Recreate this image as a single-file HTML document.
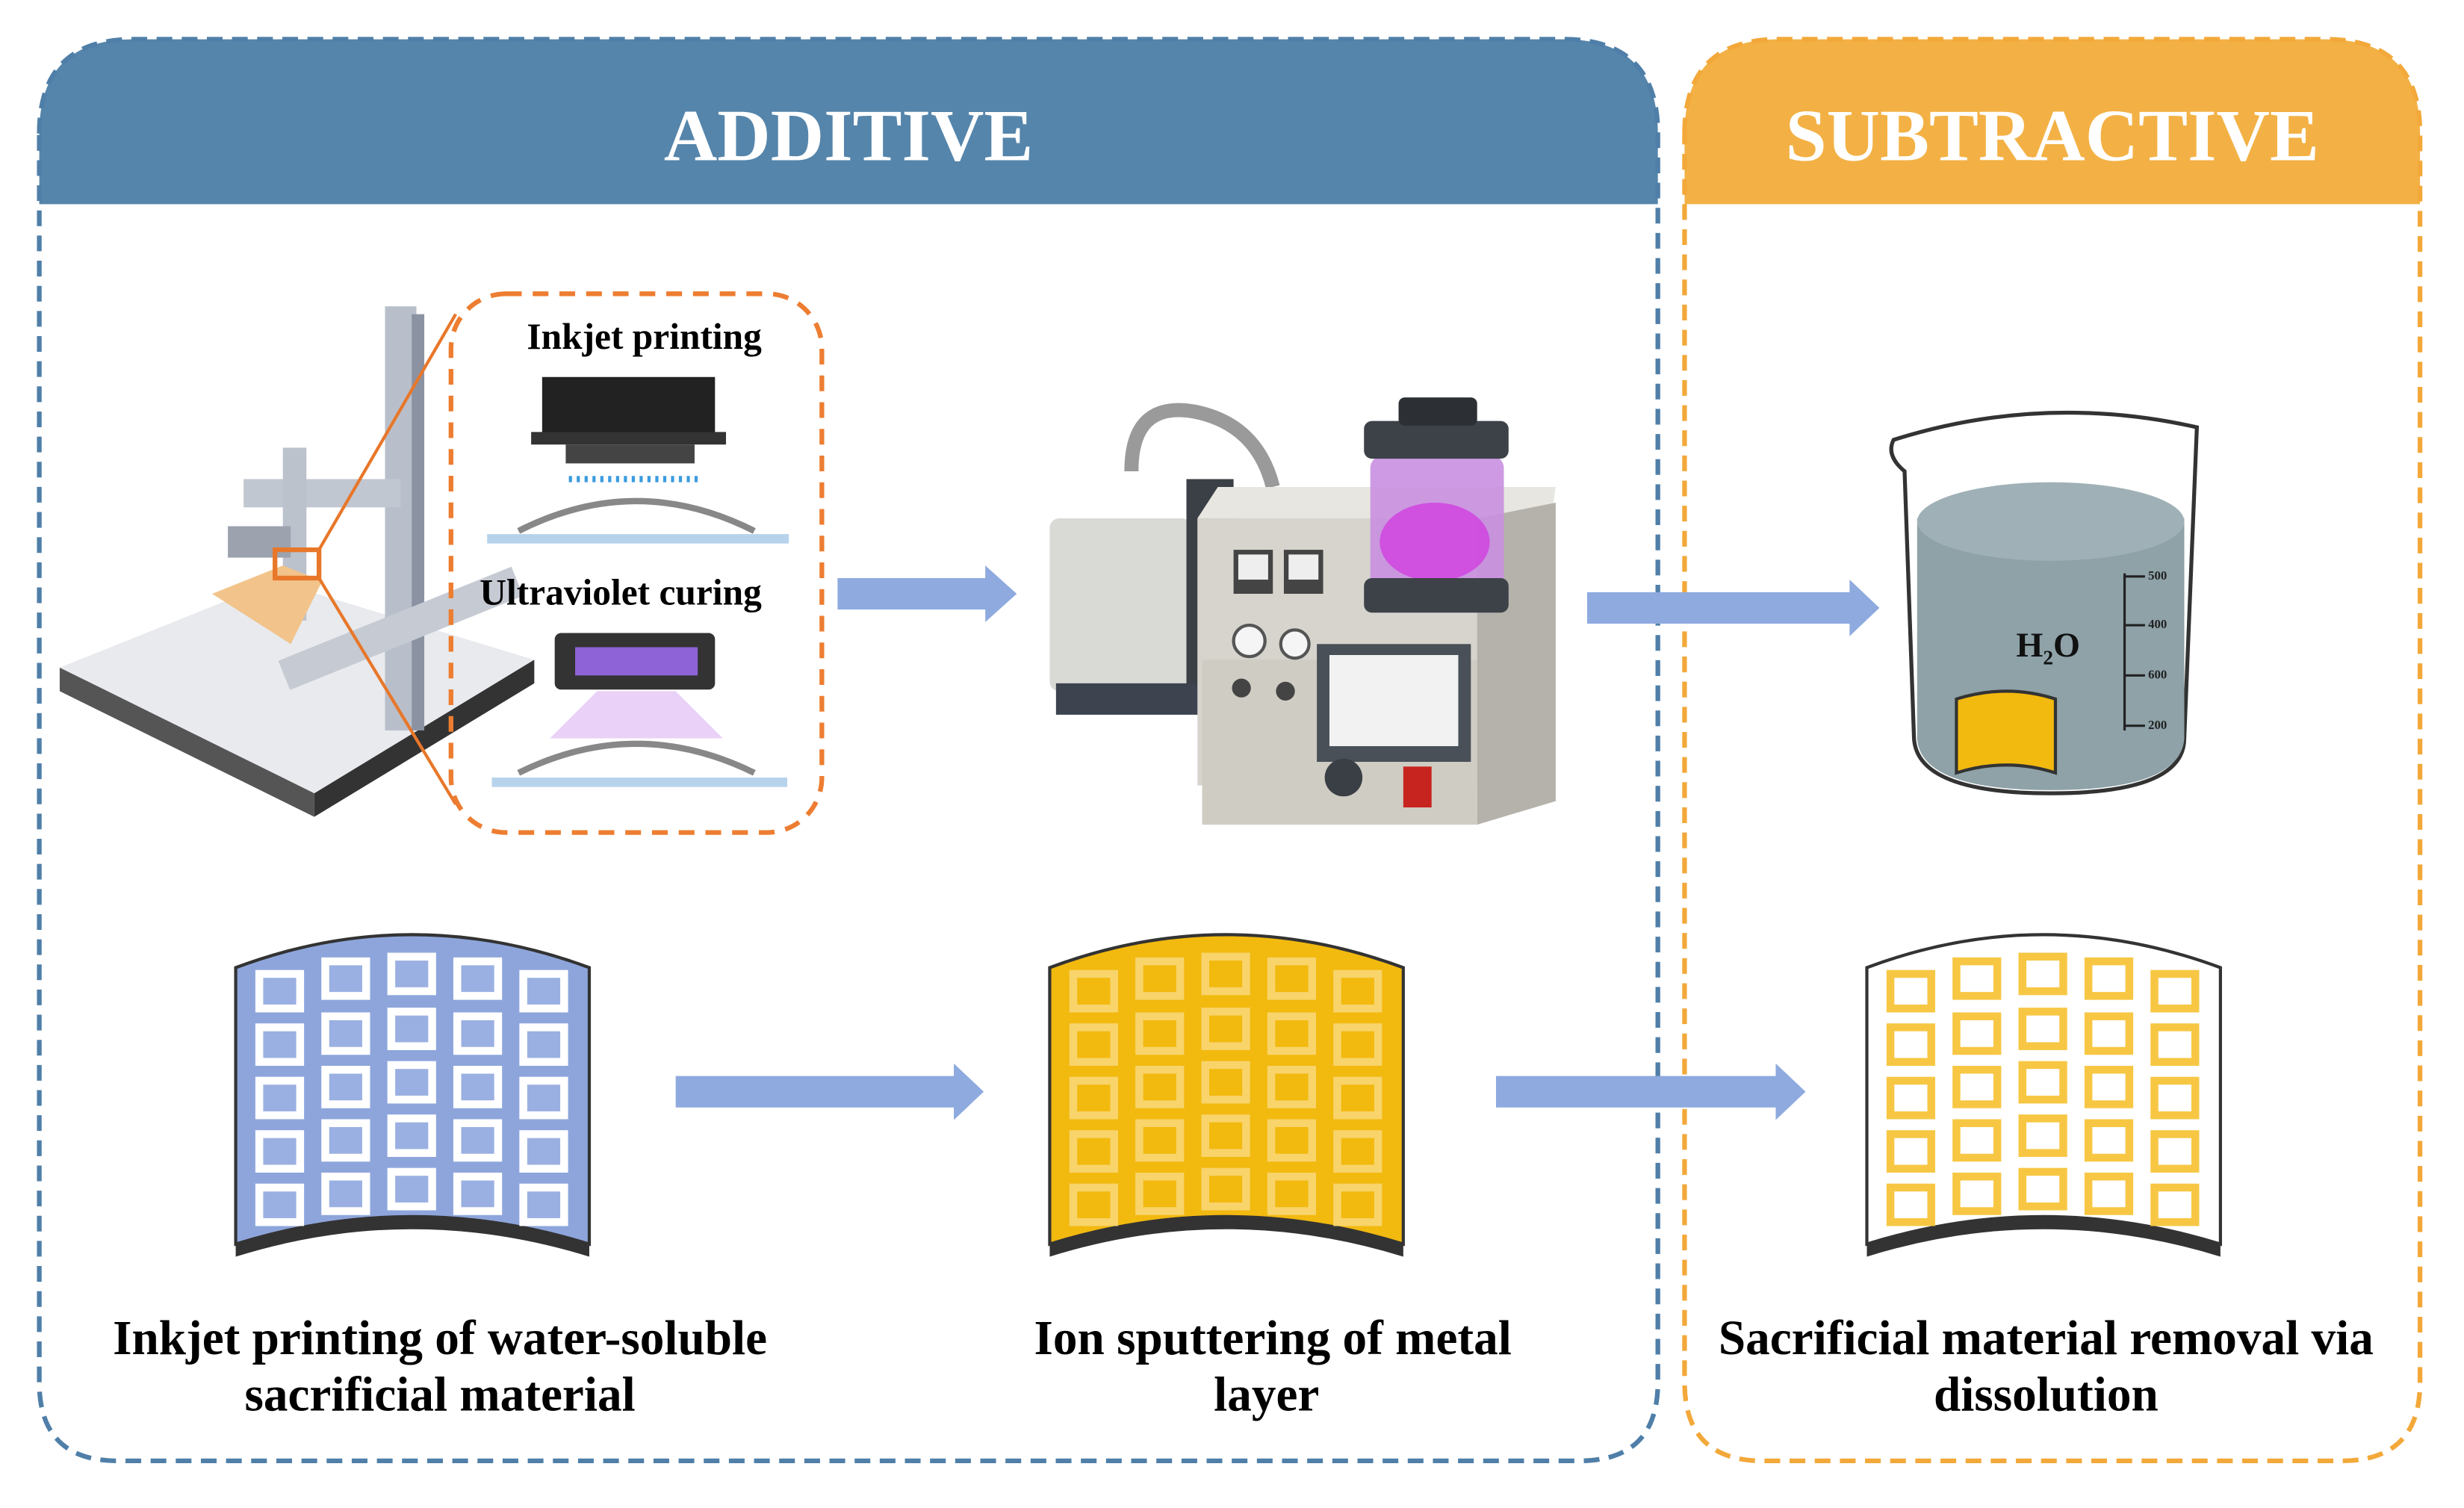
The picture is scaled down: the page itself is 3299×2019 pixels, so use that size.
<!DOCTYPE html>
<html><head><meta charset="utf-8"><style>
html,body{margin:0;padding:0;background:#fff;}
svg{display:block;}
text{font-family:"Liberation Serif",serif;font-weight:bold;}
</style></head><body>
<svg width="3299" height="2019" viewBox="0 0 1568 960" preserveAspectRatio="none" xmlns="http://www.w3.org/2000/svg">
<!-- Additive panel -->
<path d="M25,130 L25,85 Q25,25 85,25 L995,25 Q1055,25 1055,85 L1055,130 Z" fill="#5585ab"/>
<path d="M25,85 Q25,25 85,25 L995,25 Q1055,25 1055,85 L1055,880 Q1055,930 1005,930 L75,930 Q25,930 25,880 Z" fill="none" stroke="#4f7fa8" stroke-width="3" stroke-dasharray="10,6"/>
<text x="540" y="102" font-size="47" fill="#fff" text-anchor="middle">ADDITIVE</text>
<!-- Subtractive panel -->
<path d="M1072,130 L1072,85 Q1072,25 1132,25 L1480,25 Q1540,25 1540,85 L1540,130 Z" fill="#f3b145"/>
<path d="M1072,85 Q1072,25 1132,25 L1480,25 Q1540,25 1540,85 L1540,880 Q1540,930 1490,930 L1122,930 Q1072,930 1072,880 Z" fill="none" stroke="#f3a83a" stroke-width="3" stroke-dasharray="10,6"/>
<text x="1306" y="102" font-size="47" fill="#fff" text-anchor="middle">SUBTRACTIVE</text>

<!-- Printer machine -->
<polygon points="38,425 175,370 340,420 200,505" fill="#e8eaed"/>
<polygon points="38,425 200,505 200,520 38,440" fill="#555"/>
<polygon points="200,505 340,420 340,435 200,520" fill="#333"/>
<rect x="245" y="195" width="20" height="270" fill="#b9bfca"/>
<rect x="262" y="200" width="8" height="265" fill="#8b93a3"/>
<rect x="175" y="390" width="160" height="20" fill="#c5cad3" transform="rotate(-22 255 400)"/>
<rect x="155" y="305" width="100" height="18" fill="#c1c7d1"/>
<rect x="180" y="285" width="15" height="110" fill="#bcc2cc"/>
<rect x="145" y="335" width="40" height="20" fill="#9ca3af"/>
<polygon points="135,378 180,360 205,370 185,410" fill="#f2c38a"/>
<rect x="175" y="350" width="28" height="18" fill="none" stroke="#e8772a" stroke-width="3"/>
<line x1="203" y1="350" x2="290" y2="200" stroke="#e8772a" stroke-width="2"/>
<line x1="203" y1="368" x2="290" y2="512" stroke="#e8772a" stroke-width="2"/>
<!-- orange dashed box -->
<rect x="287" y="187" width="236" height="343" rx="35" fill="none" stroke="#ed7d31" stroke-width="3" stroke-dasharray="10,7"/>
<text x="410" y="222" font-size="23.5" fill="#000" text-anchor="middle">Inkjet printing</text>
<rect x="345" y="240" width="110" height="40" fill="#222"/>
<rect x="338" y="275" width="124" height="8" fill="#333"/>
<rect x="360" y="283" width="82" height="12" fill="#444"/>
<line x1="362" y1="305" x2="445" y2="305" stroke="#3a9be0" stroke-width="4" stroke-dasharray="2,3"/>
<path d="M330,338 Q405,300 480,338" fill="none" stroke="#888" stroke-width="4"/>
<rect x="310" y="340" width="192" height="6" fill="#b7d3ec"/>
<text x="395" y="385" font-size="23.5" fill="#000" text-anchor="middle">Ultraviolet curing</text>
<rect x="353" y="403" width="102" height="36" rx="4" fill="#333"/>
<rect x="366" y="412" width="78" height="18" fill="#8e63d8"/>
<polygon points="380,440 430,440 460,470 350,470" fill="#e3c6f5" opacity="0.8"/>
<path d="M330,492 Q405,455 480,492" fill="none" stroke="#888" stroke-width="4"/>
<rect x="313" y="495" width="188" height="6" fill="#b7d3ec"/>

<!-- Arrows -->
<g fill="#8eaadf">
<polygon points="533,368 627,368 627,360 647,378 627,396 627,388 533,388"/>
<polygon points="1010,377 1177,377 1177,369 1196,387 1177,405 1177,397 1010,397"/>
<polygon points="430,685 607,685 607,677 626,695 607,713 607,705 430,705"/>
<polygon points="952,685 1130,685 1130,677 1149,695 1130,713 1130,705 952,705"/>
</g>

<!-- Sputter machine -->
<path d="M720,300 Q720,255 760,262 Q800,270 810,310" fill="none" stroke="#9a9a9a" stroke-width="9"/>
<rect x="668" y="330" width="90" height="110" rx="6" fill="#d9d9d6"/>
<rect x="755" y="305" width="30" height="145" fill="#3b4046"/>
<rect x="672" y="435" width="110" height="20" fill="#3d4450"/>
<rect x="762" y="330" width="225" height="170" fill="#d6d4cd"/>
<polygon points="762,330 775,310 990,310 987,330" fill="#e8e6e0"/>
<polygon points="940,330 990,320 990,510 940,525" fill="#b4b2aa"/>
<rect x="765" y="420" width="175" height="105" fill="#cfccc4"/>
<rect x="785" y="350" width="25" height="28" fill="#444"/><rect x="788" y="353" width="19" height="16" fill="#eee"/>
<rect x="817" y="350" width="25" height="28" fill="#444"/><rect x="820" y="353" width="19" height="16" fill="#eee"/>
<circle cx="795" cy="408" r="10" fill="#f5f5f5" stroke="#555" stroke-width="2"/>
<circle cx="824" cy="410" r="9" fill="#f5f5f5" stroke="#555" stroke-width="2"/>
<circle cx="790" cy="438" r="6" fill="#444"/><circle cx="818" cy="440" r="6" fill="#444"/>
<rect x="838" y="410" width="98" height="75" fill="#4a5058"/>
<rect x="846" y="417" width="82" height="58" fill="#f2f2f2"/>
<circle cx="855" cy="495" r="12" fill="#3a3f45"/>
<rect x="893" y="488" width="18" height="26" fill="#c7231f"/>
<rect x="872" y="290" width="85" height="90" rx="8" fill="#c98fe0" opacity="0.9"/>
<ellipse cx="913" cy="345" rx="35" ry="25" fill="#d13fe0" opacity="0.8"/>
<rect x="868" y="368" width="92" height="22" rx="5" fill="#3d4248"/>
<rect x="868" y="268" width="92" height="24" rx="5" fill="#3d4248"/>
<rect x="890" y="253" width="50" height="18" rx="4" fill="#2c3035"/>

<!-- Beaker -->
<path d="M1205,280 Q1300,250 1398,272 L1390,470 Q1390,505 1305,505 Q1220,505 1218,470 L1212,300 Q1200,290 1205,280 Z" fill="#fff" stroke="#333" stroke-width="2.5"/>
<path d="M1220,330 Q1305,305 1390,330 L1390,470 Q1388,503 1305,503 Q1222,503 1220,470 Z" fill="#8ea2a8"/>
<ellipse cx="1305" cy="332" rx="85" ry="25" fill="#9fb1b6"/>
<line x1="1352" y1="365" x2="1352" y2="465" stroke="#222" stroke-width="1.5"/>
<g stroke="#222" stroke-width="1.5"><line x1="1352" y1="367" x2="1365" y2="367"/><line x1="1352" y1="398" x2="1365" y2="398"/><line x1="1352" y1="430" x2="1365" y2="430"/><line x1="1352" y1="462" x2="1365" y2="462"/></g>
<g font-size="8" fill="#222"><text x="1367" y="369">500</text><text x="1367" y="400">400</text><text x="1367" y="432">600</text><text x="1367" y="464">200</text></g>
<text x="1283" y="418" font-size="22" fill="#111">H<tspan font-size="13" dy="5">2</tspan><tspan dy="-5">O</tspan></text>
<path d="M1245,445 Q1277,435 1308,445 L1308,492 Q1277,482 1245,492 Z" fill="#f2b90f" stroke="#333" stroke-width="2"/>

<!-- Sheets -->
<defs>
<clipPath id="sh"><path d="M0,24 Q112,-18 225,24 L225,200 Q112,165 0,200 Z"/></clipPath>
<g id="grid">
<rect x="15" y="28" width="26" height="22"/><rect x="57" y="20" width="26" height="22"/><rect x="99" y="17" width="26" height="22"/><rect x="141" y="20" width="26" height="22"/><rect x="183" y="28" width="26" height="22"/>
<rect x="15" y="62" width="26" height="22"/><rect x="57" y="55" width="26" height="22"/><rect x="99" y="52" width="26" height="22"/><rect x="141" y="55" width="26" height="22"/><rect x="183" y="62" width="26" height="22"/>
<rect x="15" y="96" width="26" height="22"/><rect x="57" y="89" width="26" height="22"/><rect x="99" y="86" width="26" height="22"/><rect x="141" y="89" width="26" height="22"/><rect x="183" y="96" width="26" height="22"/>
<rect x="15" y="130" width="26" height="22"/><rect x="57" y="123" width="26" height="22"/><rect x="99" y="120" width="26" height="22"/><rect x="141" y="123" width="26" height="22"/><rect x="183" y="130" width="26" height="22"/>
<rect x="15" y="164" width="26" height="22"/><rect x="57" y="157" width="26" height="22"/><rect x="99" y="154" width="26" height="22"/><rect x="141" y="157" width="26" height="22"/><rect x="183" y="164" width="26" height="22"/>
</g>
</defs>
<g transform="translate(150,592)">
<path d="M0,200 Q112,165 225,200 L225,208 Q112,173 0,208 Z" fill="#333"/>
<path d="M0,24 Q112,-18 225,24 L225,200 Q112,165 0,200 Z" fill="#8ea5dc" stroke="#333" stroke-width="2"/>
<g clip-path="url(#sh)"><use href="#grid" fill="#9bb0e2" stroke="#fff" stroke-width="5"/></g>
</g>
<g transform="translate(668,592)">
<path d="M0,200 Q112,165 225,200 L225,208 Q112,173 0,208 Z" fill="#333"/>
<path d="M0,24 Q112,-18 225,24 L225,200 Q112,165 0,200 Z" fill="#f2b90f" stroke="#333" stroke-width="2"/>
<g clip-path="url(#sh)"><use href="#grid" fill="none" stroke="#f8d46a" stroke-width="5"/></g>
</g>
<g transform="translate(1188,592)">
<path d="M0,200 Q112,165 225,200 L225,208 Q112,173 0,208 Z" fill="#333"/>
<path d="M0,24 Q112,-18 225,24 L225,200 Q112,165 0,200 Z" fill="#fff" stroke="#333" stroke-width="2"/>
<g clip-path="url(#sh)"><use href="#grid" fill="none" stroke="#f7c744" stroke-width="5"/></g>
</g>

<!-- Captions -->
<g font-size="31" fill="#000" text-anchor="middle">
<text x="280" y="862">Inkjet printing of water-soluble</text>
<text x="280" y="898">sacrificial material</text>
<text x="810" y="862">Ion sputtering of metal</text>
<text x="806" y="898">layer</text>
<text x="1302" y="862">Sacrificial material removal via</text>
<text x="1302" y="898">dissolution</text>
</g>
</svg>
</body></html>
